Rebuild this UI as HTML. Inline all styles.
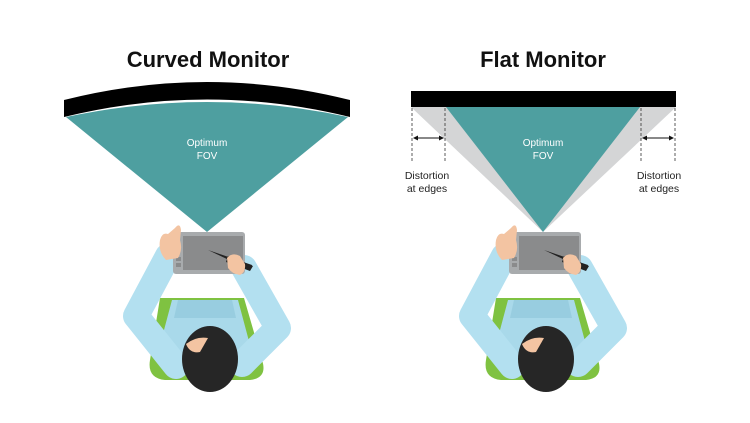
<!DOCTYPE html>
<html><head><style>
html,body{margin:0;padding:0;background:#fff;width:750px;height:423px;overflow:hidden}
svg{display:block}
text{font-family:"Liberation Sans",sans-serif}
</style></head><body>
<svg width="750" height="423" viewBox="0 0 750 423">
<defs>
<g id="person">
  <!-- seat -->
  <path d="M160,298 L244,298 L262,360 Q268,378 250,380 L165,380 Q147,378 150,360 Z" fill="#7fc241"/>
  <!-- torso -->
  <path d="M172,300 L238,300 L250,345 L245,372 L170,372 L160,345 Z" fill="#a9d9ea"/>
  <path d="M178,300 L232,300 L236,318 L174,318 Z" fill="#98cde0"/>
  <!-- arms -->
  <polyline points="168,256 136,316 176,366" fill="none" stroke="#b3e0f0" stroke-width="26" stroke-linejoin="round" stroke-linecap="round"/>
  <polyline points="244,268 278,328 242,364" fill="none" stroke="#b3e0f0" stroke-width="26" stroke-linejoin="round" stroke-linecap="round"/>
  <!-- tablet -->
  <rect x="173" y="232" width="72" height="42" rx="3" fill="#a8abad"/>
  <rect x="183" y="236" width="60" height="34" fill="#8a8b8c"/>
  <rect x="176" y="257" width="5" height="4" fill="#8a8b8c"/>
  <rect x="176" y="263" width="5" height="4" fill="#8a8b8c"/>
  <!-- left hand -->
  <path d="M160,240 Q162,232 168,234 L175,228 Q180,222 181,230 L180,240 Q183,250 178,258 L166,260 Q158,252 160,240 Z" fill="#f3c4a2"/>
  <!-- pen -->
  <path d="M208,250 L252,265 L250,270 Z" fill="#222"/>
  <path d="M228,256 L253,266 L250,271 L226,262 Z" fill="#222"/>
  <!-- right hand -->
  <path d="M227,258 Q232,252 240,256 L245,264 Q246,272 240,275 Q232,274 228,268 Z" fill="#f3c4a2"/>
  <!-- head -->
  <ellipse cx="207" cy="346" rx="20" ry="10" fill="#f3c4a2"/>
  <ellipse cx="210" cy="359" rx="28" ry="33" fill="#262626"/>
  <path d="M186,344 Q196,336 208,338 L200,352 Q190,354 186,344 Z" fill="#f3c4a2"/>
</g>
</defs>

<text x="208" y="67" font-size="22" font-weight="bold" text-anchor="middle" fill="#111">Curved Monitor</text>
<text x="543" y="67" font-size="22" font-weight="bold" text-anchor="middle" fill="#111">Flat Monitor</text>

<path d="M66,117 Q207,87 348,117 L207,232 Z" fill="#4e9fa0"/>
<path d="M64,100 Q207,64 350,100 L350,117 Q207,82 64,117 Z" fill="#000"/>
<text x="207" y="146" font-size="10" text-anchor="middle" fill="#fff">Optimum</text>
<text x="207" y="159" font-size="10" text-anchor="middle" fill="#fff">FOV</text>

<path d="M411,107 L676,107 L543,232 Z" fill="#d4d5d6"/>
<path d="M446,107 L640,107 L543,232 Z" fill="#4e9fa0"/>
<rect x="411" y="91" width="265" height="16" fill="#000"/>
<text x="543" y="146" font-size="10" text-anchor="middle" fill="#fff">Optimum</text>
<text x="543" y="159" font-size="10" text-anchor="middle" fill="#fff">FOV</text>
<g stroke="#333" stroke-width="0.8" stroke-dasharray="3,2">
<line x1="412" y1="108" x2="412" y2="162"/>
<line x1="445" y1="108" x2="445" y2="162"/>
<line x1="641" y1="108" x2="641" y2="162"/>
<line x1="675" y1="108" x2="675" y2="162"/>
</g>
<g stroke="#111" stroke-width="0.9">
<line x1="415" y1="138" x2="442" y2="138"/>
<line x1="644" y1="138" x2="672" y2="138"/>
</g>
<g fill="#111">
<path d="M413,138 L418,135.5 L418,140.5 Z"/><path d="M444,138 L439,135.5 L439,140.5 Z"/>
<path d="M642,138 L647,135.5 L647,140.5 Z"/><path d="M674,138 L669,135.5 L669,140.5 Z"/>
</g>
<text x="427" y="179" font-size="10.5" text-anchor="middle" fill="#222">Distortion</text>
<text x="427" y="192" font-size="10.5" text-anchor="middle" fill="#222">at edges</text>
<text x="659" y="179" font-size="10.5" text-anchor="middle" fill="#222">Distortion</text>
<text x="659" y="192" font-size="10.5" text-anchor="middle" fill="#222">at edges</text>

<use href="#person"/>
<use href="#person" transform="translate(336,0)"/>
</svg>
</body></html>
